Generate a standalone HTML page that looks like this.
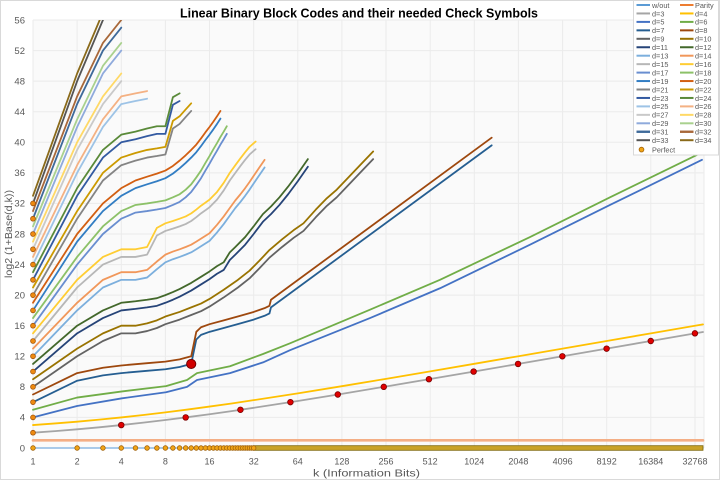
<!DOCTYPE html>
<html><head><meta charset="utf-8">
<style>
html,body{margin:0;padding:0;background:#fff;}
svg{display:block;}
text{font-family:"Liberation Sans",Arial,sans-serif;}
</style></head>
<body>
<svg width="720" height="480" viewBox="0 0 720 480" xmlns="http://www.w3.org/2000/svg">
<defs><clipPath id="c"><rect x="0" y="20" width="720" height="460"/></clipPath></defs>
<rect x="0.5" y="0.5" width="719" height="479" fill="#ffffff" stroke="#d9d9d9"/>
<rect x="33" y="20" width="671" height="428" fill="#fafafa"/>
<g stroke="#ebebeb" stroke-width="1">
<line x1="33" y1="20" x2="33" y2="448"/><line x1="77.1" y1="20" x2="77.1" y2="448"/><line x1="121.3" y1="20" x2="121.3" y2="448"/><line x1="165.4" y1="20" x2="165.4" y2="448"/><line x1="209.5" y1="20" x2="209.5" y2="448"/><line x1="253.7" y1="20" x2="253.7" y2="448"/><line x1="297.8" y1="20" x2="297.8" y2="448"/><line x1="341.9" y1="20" x2="341.9" y2="448"/><line x1="386" y1="20" x2="386" y2="448"/><line x1="430.2" y1="20" x2="430.2" y2="448"/><line x1="474.3" y1="20" x2="474.3" y2="448"/><line x1="518.4" y1="20" x2="518.4" y2="448"/><line x1="562.6" y1="20" x2="562.6" y2="448"/><line x1="606.7" y1="20" x2="606.7" y2="448"/><line x1="650.8" y1="20" x2="650.8" y2="448"/><line x1="695" y1="20" x2="695" y2="448"/><line x1="704" y1="20" x2="704" y2="448"/>
<line x1="33" y1="417.4" x2="704" y2="417.4"/><line x1="33" y1="386.9" x2="704" y2="386.9"/><line x1="33" y1="356.3" x2="704" y2="356.3"/><line x1="33" y1="325.7" x2="704" y2="325.7"/><line x1="33" y1="295.1" x2="704" y2="295.1"/><line x1="33" y1="264.6" x2="704" y2="264.6"/><line x1="33" y1="234" x2="704" y2="234"/><line x1="33" y1="203.4" x2="704" y2="203.4"/><line x1="33" y1="172.9" x2="704" y2="172.9"/><line x1="33" y1="142.3" x2="704" y2="142.3"/><line x1="33" y1="111.7" x2="704" y2="111.7"/><line x1="33" y1="81.1" x2="704" y2="81.1"/><line x1="33" y1="50.6" x2="704" y2="50.6"/><line x1="33" y1="20" x2="704" y2="20"/>
</g>

<g clip-path="url(#c)" fill="none" stroke-width="1.8" stroke-linejoin="round" stroke-linecap="round">
<polyline stroke="#8DB9E3" stroke-width="1.5" points="33,448 703,448"/>
<polyline stroke="#F4AE85" stroke-width="2.6" points="33,440.36 703,440.36"/>
<polyline stroke="#A5A5A5" points="33,432.71 55.07,431.09 77.13,429.33 99.2,427.3 121.26,425.07 143.33,422.63 165.39,420 187.4,417.2 209.52,414.21 231.6,411.1 253.65,407.81 297.78,400.97 341.91,393.83 386.04,386.47 430.17,379 474.3,371.45 518.43,363.87 562.56,356.25 606.69,348.62 650.82,340.99 694.95,333.35 703,332.01"/>
<polyline stroke="#FFC000" points="33,425.07 55.07,423.45 77.13,421.69 99.2,419.66 121.26,417.43 143.33,414.99 165.39,412.36 187.4,409.56 209.52,406.57 231.6,403.46 253.65,400.17 297.78,393.33 341.91,386.19 386.04,378.83 430.17,371.36 474.3,363.81 518.43,356.23 562.56,348.61 606.69,340.98 650.82,333.35 694.95,325.71 703,324.37"/>
<polyline stroke="#4472C4" points="33,417.43 77,405.96 122,398.32 166,392.21 187,386.86 197,379.98 230,373.1 263,362.4 290,350.17 370,318.07 440,288.26 530,244.7 610,204.95 702,159.86"/>
<polyline stroke="#70AD47" points="33,409.79 77,397.56 122,391.44 166,386.09 187,379.98 197,373.1 230,366.22 263,353.99 290,343.29 370,309.66 440,279.85 530,237.05 610,197.31 701,152.98"/>
<polyline stroke="#255E91" points="33,402.14 77.13,380.74 102.94,375.39 121.26,373.1 147.07,370.81 165.39,369.28 179.6,366.98 191.21,363.93 196.3,339.47 201.02,334.88 209.52,331.83 223.73,328 240.43,323.42 253.65,319.6 264.59,315.78 269.43,313.48 270.97,307.37 491.66,145.34"/>
<polyline stroke="#9E480E" points="33,394.5 77.13,373.1 102.94,367.75 121.26,365.46 147.07,363.17 165.39,361.64 179.6,359.34 191.21,356.29 196.3,331.83 201.02,327.24 209.52,324.19 223.73,320.36 240.43,315.78 253.65,311.96 264.59,308.14 269.43,305.84 270.97,299.73 491.66,137.7"/>
<polyline stroke="#636363" points="33,386.85 77.13,356.28 102.94,341 121.26,333.35 135.47,333.35 147.07,331.06 156.89,328 165.39,324.18 179.6,319.59 191.21,315.01 201.02,311.19 209.52,306.6 223.73,297.43 237.93,287.49 249.54,278.32 259.35,268.39 269.43,257.69 282.07,246.99 293.67,237.81 303.49,230.94 315.85,217.18 326.19,206.48 336.73,197.31 347.61,185.84 359.98,172.85 373.13,159.09"/>
<polyline stroke="#997300" points="33,379.21 77.13,348.64 102.94,333.36 121.26,325.71 135.47,325.71 147.07,323.42 156.89,320.36 165.39,316.54 179.6,311.95 191.21,307.37 201.02,303.55 209.52,298.96 223.73,289.79 237.93,279.85 249.54,270.68 259.35,260.75 269.43,250.05 282.07,239.35 293.67,230.17 303.49,223.3 315.85,209.54 326.19,198.84 336.73,189.67 347.61,178.2 359.98,165.21 373.13,151.45"/>
<polyline stroke="#264478" points="33,371.57 77.13,333.36 102.94,318.07 121.26,310.43 135.47,308.9 147.07,307.37 156.89,305.84 165.39,302.78 172.89,299.73 179.6,296.67 191.21,290.55 201.02,284.44 209.52,279.09 217.02,273.74 223.73,269.92 229.8,259.98 235.34,254.63 245.15,244.7 253.65,234 262.89,221.77 270.97,214.12 279.47,204.95 288.13,194.25 297.78,181.26 307.88,166.74"/>
<polyline stroke="#43682B" points="33,363.93 77.13,325.72 102.94,310.43 121.26,302.79 135.47,301.26 147.07,299.73 156.89,298.2 165.39,295.14 172.89,292.09 179.6,289.03 191.21,282.91 201.02,276.8 209.52,271.45 217.02,266.1 223.73,262.28 229.8,252.34 235.34,246.99 245.15,237.06 253.65,226.36 262.89,214.13 270.97,206.48 279.47,197.31 288.13,186.61 297.78,173.62 307.88,159.1"/>
<polyline stroke="#7CAFDD" points="33,356.28 77.13,310.43 102.94,287.5 121.26,279.85 135.47,279.85 147.07,277.56 156.89,269.15 165.39,262.28 172.89,259.22 179.6,256.93 185.67,254.63 191.21,252.34 196.3,249.28 201.02,246.22 209.52,240.87 217.02,232.47 223.73,224.06 229.8,215.65 235.34,208.01 240.43,201.9 245.15,195.78 249.54,189.67 253.65,183.55 259.35,175.15 264.59,167.5"/>
<polyline stroke="#F1975A" points="33,348.64 77.13,302.79 102.94,279.86 121.26,272.21 135.47,272.21 147.07,269.92 156.89,261.51 165.39,254.64 172.89,251.58 179.6,249.29 185.67,246.99 191.21,244.7 196.3,241.64 201.02,238.58 209.52,233.23 217.02,224.83 223.73,216.42 229.8,208.01 235.34,200.37 240.43,194.26 245.15,188.14 249.54,182.03 253.65,175.91 259.35,167.51 264.59,159.86"/>
<polyline stroke="#B7B7B7" points="33,341 77.13,287.5 102.94,264.57 121.26,256.93 135.47,256.93 147.07,254.63 156.89,235.52 165.39,230.94 172.89,228.65 179.6,226.35 185.67,224.06 191.21,221 196.3,217.18 201.02,213.36 205.41,210.3 209.52,207.25 217.02,199.6 223.73,190.43 229.8,180.5 235.34,172.85 240.43,165.97 245.15,159.86 249.54,154.51 255.61,149.16"/>
<polyline stroke="#FFCD33" points="33,333.36 77.13,279.86 102.94,256.93 121.26,249.29 135.47,249.29 147.07,246.99 156.89,227.88 165.39,223.3 172.89,221.01 179.6,218.71 185.67,216.42 191.21,213.36 196.3,209.54 201.02,205.72 205.41,202.66 209.52,199.61 217.02,191.96 223.73,182.79 229.8,172.86 235.34,165.21 240.43,158.33 245.15,152.22 249.54,146.87 255.61,141.52"/>
<polyline stroke="#698ED0" points="33,325.71 77.13,264.57 102.94,234 121.26,218.71 135.47,212.6 147.07,211.07 156.89,209.54 165.39,208.01 172.89,204.95 179.6,201.9 185.67,197.31 191.21,191.96 196.3,185.08 201.02,178.2 205.41,170.56 209.52,163.68 213.38,156.8 217.02,150.69 220.46,144.57 223.73,139.22 226.83,133.87"/>
<polyline stroke="#8CC168" points="33,318.07 77.13,256.93 102.94,226.36 121.26,211.07 135.47,204.96 147.07,203.43 156.89,201.9 165.39,200.37 172.89,197.31 179.6,194.26 185.67,189.67 191.21,184.32 196.3,177.44 201.02,170.56 205.41,162.92 209.52,156.04 213.38,149.16 217.02,143.05 220.46,136.93 223.73,131.58 226.83,126.23"/>
<polyline stroke="#327DC3" points="33,310.43 77.13,241.64 102.94,211.07 121.26,195.78 135.47,188.14 147.07,184.32 156.89,181.26 165.39,178.2 172.89,173.62 179.6,168.27 185.67,162.92 191.21,157.57 196.3,152.22 201.02,146.1 205.41,139.99 209.52,134.64 213.38,129.29 217.02,123.94 220.46,118.59"/>
<polyline stroke="#D25F12" points="33,302.79 77.13,234 102.94,203.43 121.26,188.14 135.47,180.5 147.07,176.68 156.89,173.62 165.39,170.56 172.89,165.98 179.6,160.63 185.67,155.28 191.21,149.93 196.3,144.58 201.02,138.46 205.41,132.35 209.52,127 213.38,121.65 217.02,116.3 220.46,110.95"/>
<polyline stroke="#848484" points="33,295.14 77.13,218.71 102.94,180.5 121.26,165.21 135.47,160.62 147.07,157.57 156.89,156.04 165.39,154.51 172.89,128.52 179.6,123.94 185.67,117.06 191.21,110.94"/>
<polyline stroke="#CC9A00" points="33,287.5 77.13,211.07 102.94,172.86 121.26,157.57 135.47,152.98 147.07,149.93 156.89,148.4 165.39,146.87 172.89,120.88 179.6,116.3 185.67,109.42 191.21,103.3"/>
<polyline stroke="#335AA1" points="33,279.85 77.13,195.78 102.94,157.57 121.26,142.28 135.47,139.22 147.07,136.17 156.89,133.87 165.39,133.87 172.89,104.83 179.6,101.01"/>
<polyline stroke="#5A8A39" points="33,272.21 77.13,188.14 102.94,149.93 121.26,134.64 135.47,131.58 147.07,128.53 156.89,126.23 165.39,126.23 172.89,97.19 179.6,93.37"/>
<polyline stroke="#9DC3E6" points="33,264.57 77.13,172.85 102.94,126.99 121.26,104.07 135.47,101.01 147.07,98.72"/>
<polyline stroke="#F4B183" points="33,256.93 77.13,165.21 102.94,119.35 121.26,96.43 135.47,93.37 147.07,91.08"/>
<polyline stroke="#C9C9C9" points="33,249.28 77.13,149.92 102.94,104.07 121.26,81.14"/>
<polyline stroke="#FFD966" points="33,241.64 77.13,142.28 102.94,96.43 121.26,73.5"/>
<polyline stroke="#8FAADC" points="33,234 77.13,126.99 102.94,73.49 121.26,50.56"/>
<polyline stroke="#A9D18E" points="33,226.36 77.13,119.35 102.94,65.85 121.26,42.92"/>
<polyline stroke="#3F6A9A" points="33,218.71 77.13,104.07 102.94,50.56 121.26,27.64"/>
<polyline stroke="#A8683A" points="33,211.07 77.13,96.43 102.94,42.92 121.26,20"/>
<polyline stroke="#555555" points="33,203.42 77.13,81.14 102.94,19.99 121.26,-10.58"/>
<polyline stroke="#8A6A1A" points="33,195.78 77.13,73.5 102.94,12.35 121.26,-18.22"/>
</g>

<rect x="253.65" y="445.7" width="449.35" height="4.6" fill="#C9A227" stroke="#7D6608" stroke-width="0.8"/>
<g fill="#F2A516" stroke="#A0620A" stroke-width="0.8">
<circle cx="33" cy="448" r="2.3"/><circle cx="77.13" cy="448" r="2.3"/><circle cx="102.94" cy="448" r="2.3"/><circle cx="121.26" cy="448" r="2.3"/><circle cx="135.47" cy="448" r="2.3"/><circle cx="147.07" cy="448" r="2.3"/><circle cx="156.89" cy="448" r="2.3"/><circle cx="165.39" cy="448" r="2.3"/><circle cx="172.89" cy="448" r="2.3"/><circle cx="179.6" cy="448" r="2.3"/><circle cx="185.67" cy="448" r="2.3"/><circle cx="191.21" cy="448" r="2.3"/><circle cx="196.3" cy="448" r="2.3"/><circle cx="201.02" cy="448" r="2.3"/><circle cx="205.41" cy="448" r="2.3"/><circle cx="209.52" cy="448" r="2.3"/><circle cx="213.38" cy="448" r="2.3"/><circle cx="217.02" cy="448" r="2.3"/><circle cx="220.46" cy="448" r="2.3"/><circle cx="223.73" cy="448" r="2.3"/><circle cx="226.83" cy="448" r="2.3"/><circle cx="229.8" cy="448" r="2.3"/><circle cx="232.63" cy="448" r="2.3"/><circle cx="235.34" cy="448" r="2.3"/><circle cx="237.93" cy="448" r="2.3"/><circle cx="240.43" cy="448" r="2.3"/><circle cx="242.84" cy="448" r="2.3"/><circle cx="245.15" cy="448" r="2.3"/><circle cx="247.39" cy="448" r="2.3"/><circle cx="249.54" cy="448" r="2.3"/><circle cx="251.63" cy="448" r="2.3"/><circle cx="253.65" cy="448" r="2.3"/>
</g>
<g fill="#EE8A10" stroke="#A0520A" stroke-width="0.8">
<circle cx="33" cy="432.71" r="2.4"/><circle cx="33" cy="417.43" r="2.4"/><circle cx="33" cy="402.14" r="2.4"/><circle cx="33" cy="386.86" r="2.4"/><circle cx="33" cy="371.57" r="2.4"/><circle cx="33" cy="356.28" r="2.4"/><circle cx="33" cy="341" r="2.4"/><circle cx="33" cy="325.71" r="2.4"/><circle cx="33" cy="310.43" r="2.4"/><circle cx="33" cy="295.14" r="2.4"/><circle cx="33" cy="279.85" r="2.4"/><circle cx="33" cy="264.57" r="2.4"/><circle cx="33" cy="249.28" r="2.4"/><circle cx="33" cy="234" r="2.4"/><circle cx="33" cy="218.71" r="2.4"/><circle cx="33" cy="203.42" r="2.4"/>
</g>
<g fill="#E00000" stroke="#7A0000" stroke-width="0.8">
<circle cx="121.26" cy="425.07" r="2.8"/><circle cx="185.67" cy="417.43" r="2.8"/><circle cx="240.43" cy="409.79" r="2.8"/><circle cx="290.41" cy="402.14" r="2.8"/><circle cx="337.8" cy="394.5" r="2.8"/><circle cx="383.77" cy="386.86" r="2.8"/><circle cx="428.92" cy="379.21" r="2.8"/><circle cx="473.62" cy="371.57" r="2.8"/><circle cx="518.05" cy="363.93" r="2.8"/><circle cx="562.35" cy="356.28" r="2.8"/><circle cx="606.6" cy="348.64" r="2.8"/><circle cx="650.76" cy="341" r="2.8"/><circle cx="694.92" cy="333.36" r="2.8"/>
<circle cx="191.21" cy="363.93" r="4.6" fill="#D00000" stroke="#700000" stroke-width="1"/>
</g>

<text x="359" y="17.5" font-size="12.5" font-weight="bold" fill="#000" text-anchor="middle" textLength="358" lengthAdjust="spacingAndGlyphs">Linear Binary Block Codes and their needed Check Symbols</text>

<g font-size="9.5" fill="#595959" text-anchor="end">
<text x="25" y="451.3">0</text><text x="25" y="420.7">4</text><text x="25" y="390.2">8</text><text x="25" y="359.6">12</text><text x="25" y="329">16</text><text x="25" y="298.4">20</text><text x="25" y="267.9">24</text><text x="25" y="237.3">28</text><text x="25" y="206.7">32</text><text x="25" y="176.2">36</text><text x="25" y="145.6">40</text><text x="25" y="115">44</text><text x="25" y="84.4">48</text><text x="25" y="53.9">52</text><text x="25" y="23.3">56</text>
</g>
<g font-size="9" fill="#595959" text-anchor="middle">
<text x="33" y="464.5">1</text><text x="77.1" y="464.5">2</text><text x="121.3" y="464.5">4</text><text x="165.4" y="464.5">8</text><text x="209.5" y="464.5">16</text><text x="253.7" y="464.5">32</text><text x="297.8" y="464.5">64</text><text x="341.9" y="464.5">128</text><text x="386" y="464.5">256</text><text x="430.2" y="464.5">512</text><text x="474.3" y="464.5">1024</text><text x="518.4" y="464.5">2048</text><text x="562.6" y="464.5">4096</text><text x="606.7" y="464.5">8192</text><text x="650.8" y="464.5">16384</text><text x="695" y="464.5">32768</text>
</g>
<text x="366.5" y="476.5" font-size="10.5" fill="#595959" text-anchor="middle" textLength="107" lengthAdjust="spacingAndGlyphs">k (Information Bits)</text>
<text x="0" y="0" font-size="10.5" fill="#595959" text-anchor="middle" transform="translate(12,234) rotate(-90)" textLength="88" lengthAdjust="spacingAndGlyphs">log2  (1+Base(d,k))</text>

<rect x="633.5" y="0.5" width="85" height="154.5" fill="#ffffff" stroke="#d9d9d9"/>
<g stroke-width="2">
<line x1="636.5" x2="650" y1="5" y2="5" stroke="#5B9BD5"/><line x1="680" x2="693.5" y1="5" y2="5" stroke="#ED7D31"/>
<line x1="636.5" x2="650" y1="13.45" y2="13.45" stroke="#A5A5A5"/><line x1="680" x2="693.5" y1="13.45" y2="13.45" stroke="#FFC000"/>
<line x1="636.5" x2="650" y1="21.9" y2="21.9" stroke="#4472C4"/><line x1="680" x2="693.5" y1="21.9" y2="21.9" stroke="#70AD47"/>
<line x1="636.5" x2="650" y1="30.35" y2="30.35" stroke="#255E91"/><line x1="680" x2="693.5" y1="30.35" y2="30.35" stroke="#9E480E"/>
<line x1="636.5" x2="650" y1="38.8" y2="38.8" stroke="#636363"/><line x1="680" x2="693.5" y1="38.8" y2="38.8" stroke="#997300"/>
<line x1="636.5" x2="650" y1="47.25" y2="47.25" stroke="#264478"/><line x1="680" x2="693.5" y1="47.25" y2="47.25" stroke="#43682B"/>
<line x1="636.5" x2="650" y1="55.7" y2="55.7" stroke="#7CAFDD"/><line x1="680" x2="693.5" y1="55.7" y2="55.7" stroke="#F1975A"/>
<line x1="636.5" x2="650" y1="64.15" y2="64.15" stroke="#B7B7B7"/><line x1="680" x2="693.5" y1="64.15" y2="64.15" stroke="#FFCD33"/>
<line x1="636.5" x2="650" y1="72.6" y2="72.6" stroke="#698ED0"/><line x1="680" x2="693.5" y1="72.6" y2="72.6" stroke="#8CC168"/>
<line x1="636.5" x2="650" y1="81.05" y2="81.05" stroke="#327DC3"/><line x1="680" x2="693.5" y1="81.05" y2="81.05" stroke="#D25F12"/>
<line x1="636.5" x2="650" y1="89.5" y2="89.5" stroke="#848484"/><line x1="680" x2="693.5" y1="89.5" y2="89.5" stroke="#CC9A00"/>
<line x1="636.5" x2="650" y1="97.95" y2="97.95" stroke="#335AA1"/><line x1="680" x2="693.5" y1="97.95" y2="97.95" stroke="#5A8A39"/>
<line x1="636.5" x2="650" y1="106.4" y2="106.4" stroke="#9DC3E6"/><line x1="680" x2="693.5" y1="106.4" y2="106.4" stroke="#F4B183"/>
<line x1="636.5" x2="650" y1="114.85" y2="114.85" stroke="#C9C9C9"/><line x1="680" x2="693.5" y1="114.85" y2="114.85" stroke="#FFD966"/>
<line x1="636.5" x2="650" y1="123.3" y2="123.3" stroke="#8FAADC"/><line x1="680" x2="693.5" y1="123.3" y2="123.3" stroke="#A9D18E"/>
<line x1="636.5" x2="650" y1="131.75" y2="131.75" stroke="#3F6A9A" stroke-width="2.4"/><line x1="680" x2="693.5" y1="131.75" y2="131.75" stroke="#A8683A" stroke-width="2.4"/>
<line x1="636.5" x2="650" y1="140.2" y2="140.2" stroke="#555555"/><line x1="680" x2="693.5" y1="140.2" y2="140.2" stroke="#8A6A1A"/>
</g>
<g font-size="7.3" fill="#595959">
<text x="652" y="7.8">w/out</text><text x="695" y="7.8">Parity</text>
<text x="652" y="16.3">d=3</text><text x="695" y="16.3">d=4</text>
<text x="652" y="24.7">d=5</text><text x="695" y="24.7">d=6</text>
<text x="652" y="33.2">d=7</text><text x="695" y="33.2">d=8</text>
<text x="652" y="41.6">d=9</text><text x="695" y="41.6">d=10</text>
<text x="652" y="50.1">d=11</text><text x="695" y="50.1">d=12</text>
<text x="652" y="58.5">d=13</text><text x="695" y="58.5">d=14</text>
<text x="652" y="67">d=15</text><text x="695" y="67">d=16</text>
<text x="652" y="75.4">d=17</text><text x="695" y="75.4">d=18</text>
<text x="652" y="83.9">d=19</text><text x="695" y="83.9">d=20</text>
<text x="652" y="92.3">d=21</text><text x="695" y="92.3">d=22</text>
<text x="652" y="100.8">d=23</text><text x="695" y="100.8">d=24</text>
<text x="652" y="109.2">d=25</text><text x="695" y="109.2">d=26</text>
<text x="652" y="117.7">d=27</text><text x="695" y="117.7">d=28</text>
<text x="652" y="126.1">d=29</text><text x="695" y="126.1">d=30</text>
<text x="652" y="134.6">d=31</text><text x="695" y="134.6">d=32</text>
<text x="652" y="143">d=33</text><text x="695" y="143">d=34</text>
<text x="652" y="152.3">Perfect</text>
</g>
<circle cx="641.5" cy="149.6" r="2.4" fill="#F2A516" stroke="#A0620A" stroke-width="0.8"/>
</svg>
</body></html>
